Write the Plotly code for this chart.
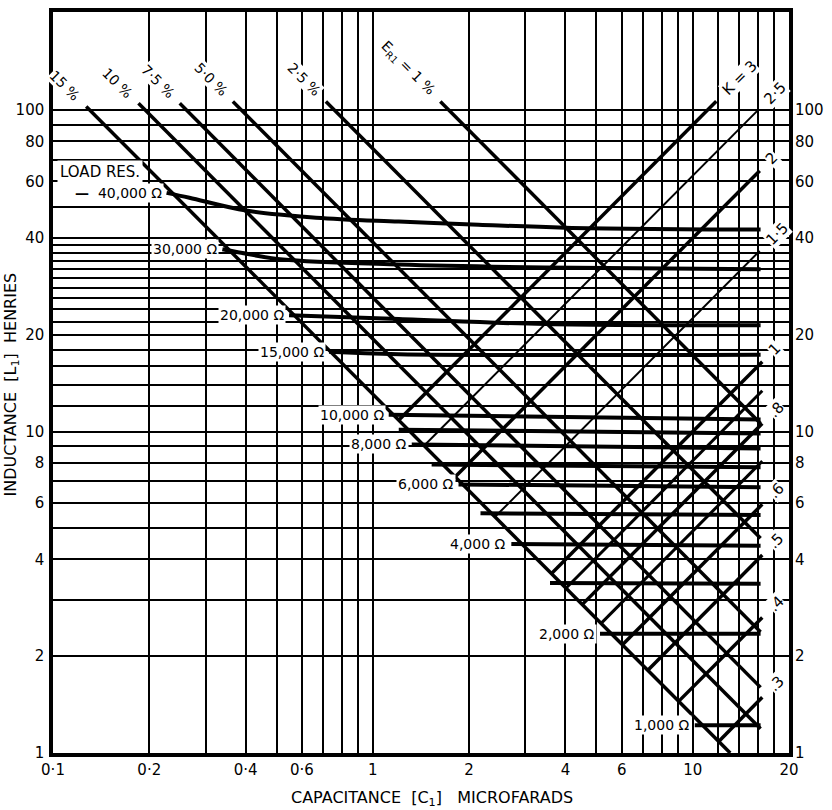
import math
import plotly.graph_objects as go

# ---------------- grid / tick data ----------------
x_grid = [0.1, 0.2, 0.3, 0.4, 0.5, 0.6, 0.7, 0.8, 0.9, 1, 2, 3, 4, 5, 6, 7, 8, 9, 10, 12, 14, 16, 18, 20]
x_tick_labels = {0.1: "0·1", 0.2: "0·2", 0.4: "0·4", 0.6: "0·6", 1: "1", 2: "2", 4: "4", 6: "6", 10: "10", 20: "20"}
y_grid = [1, 2, 3, 4, 5, 6, 7, 8, 9, 10, 12, 14, 16, 18, 20, 22, 24, 26, 28, 30, 32, 34, 36, 38, 40,
          50, 60, 70, 80, 90, 100]
y_tick_labels = {1: "1", 2: "2", 4: "4", 6: "6", 8: "8", 10: "10", 20: "20", 40: "40", 60: "60", 80: "80", 100: "100"}

x_min, x_max = 0.1, 20
y_min, y_max = 1, 202

# ---------------- ripple (E_R1) lines : slope -1 ----------------
eri_labels = ["15 %", "10 %", "7·5 %", "5·0 %", "2·5 %", "E<sub>R1</sub> = 1 %"]
eri_c_start = [0.127, 0.185, 0.249, 0.365, 0.713, 1.625]
eri_l_start = [102.7, 105.0, 105.0, 106.4, 106.4, 106.4]
eri_c_end = [13.1, 16.3, 16.3, 16.3, 16.3, 16.3]
eri_l_end = [1.0, 1.19, 1.60, 2.38, 4.66, 10.6]

# ---------------- K lines : slope +1 ----------------
k_labels = ["K = 3", "2·5", "2", "1·5", "1", "", ".8", "", ".6", ".5", ".4", ".3"]
k_c_start = [1.206, 1.448, 1.81, 2.41, 3.62, 4.02, 4.52, 5.17, 6.03, 7.24, 9.05, 12.06]
k_l_start = [10.86, 9.05, 7.24, 5.43, 3.62, 3.26, 2.90, 2.53, 2.17, 1.81, 1.45, 1.086]
k_c_end = [11.85, 16.0, 16.2, 16.2, 16.5, 16.5, 16.5, 16.5, 16.5, 16.5, 16.5, 16.5]
k_l_end = [106.6, 100.0, 64.8, 36.5, 16.5, 13.4, 10.6, 8.09, 5.94, 4.13, 2.64, 1.49]
k_width = [3.5, 2.0, 3.5, 2.0, 3.5, 3.0, 3.5, 3.0, 3.5, 3.5, 3.5, 3.5]

# ---------------- load resistance curves ----------------
load_40k_c = [0.2265, 0.267, 0.402, 0.664, 1.205, 2.14, 3.99, 16.3]
load_40k_l = [55.3, 53.4, 48.7, 46.3, 45.0, 44.0, 43.1, 42.5]
load_30k_c = [0.3385, 0.411, 0.523, 1.205, 3.46, 16.3]
load_30k_l = [36.9, 35.6, 34.3, 33.1, 32.4, 32.0]
load_20k_c = [0.547, 1.205, 3.46, 16.3]
load_20k_l = [23.0, 22.4, 21.6, 21.4]
load_15k_c = [0.7295, 1.205, 16.3]
load_15k_l = [17.7, 17.4, 17.35]

curve_labels = ["<b>—</b>  40,000 Ω", "30,000 Ω", "20,000 Ω", "15,000 Ω"]
curve_c = [load_40k_c, load_30k_c, load_20k_c, load_15k_c]
curve_l = [load_40k_l, load_30k_l, load_20k_l, load_15k_l]

low_labels = ["10,000 Ω", "", "8,000 Ω", "", "6,000 Ω", "", "4,000 Ω", "", "2,000 Ω", "1,000 Ω"]
low_c_start = [1.121, 1.205, 1.323, 1.527, 1.853, 2.17, 2.71, 3.58, 5.13, 10.15]
low_l_start = [11.29, 10.14, 9.12, 7.90, 6.85, 5.57, 4.47, 3.38, 2.35, 1.22]
low_c_end = [16.3, 16.3, 16.3, 16.3, 16.3, 16.3, 16.3, 16.3, 16.3, 16.3]
low_l_end = [10.9, 9.86, 8.86, 7.74, 6.71, 5.50, 4.41, 3.36, 2.35, 1.22]

FONT = "DejaVu Sans"
fig = go.Figure()


def add_line(xs, ys, width, shape="linear"):
    fig.add_trace(go.Scatter(x=xs, y=ys, mode="lines",
                             line=dict(color="black", width=width, shape=shape),
                             hoverinfo="skip", showlegend=False))


for i in range(len(eri_labels)):
    add_line([eri_c_start[i], eri_c_end[i]], [eri_l_start[i], eri_l_end[i]], 3.5)

for i in range(len(k_labels)):
    add_line([k_c_start[i], k_c_end[i]], [k_l_start[i], k_l_end[i]], k_width[i])

for i in range(len(curve_labels)):
    add_line(curve_c[i], curve_l[i], 4, shape="spline")

for i in range(len(low_labels)):
    add_line([low_c_start[i], low_c_end[i]], [low_l_start[i], low_l_end[i]], 4)

# invisible trace for the right-hand axis
fig.add_trace(go.Scatter(x=[x_min], y=[y_min], yaxis="y2", mode="markers",
                         marker=dict(opacity=0), hoverinfo="skip", showlegend=False))

ann = []
# ripple labels (rotated, reading downwards to the right)
for i, t in enumerate(eri_labels):
    ann.append(dict(x=math.log10(eri_c_start[i]), y=math.log10(eri_l_start[i]), xref="x", yref="y",
                    text=t, textangle=45, showarrow=False, xanchor="right", yanchor="bottom",
                    xshift=-1, yshift=1, bgcolor="white", borderpad=0,
                    font=dict(family=FONT, size=14, color="black")))
# K labels (rotated upwards)
for i, t in enumerate(k_labels):
    if not t:
        continue
    ann.append(dict(x=math.log10(k_c_end[i]), y=math.log10(k_l_end[i]), xref="x", yref="y",
                    text=t, textangle=-45, showarrow=False, xanchor="left", yanchor="bottom",
                    xshift=1, yshift=1, bgcolor="white", borderpad=0,
                    font=dict(family=FONT, size=15, color="black")))
# load labels
for i, t in enumerate(curve_labels):
    ann.append(dict(x=math.log10(curve_c[i][0]), y=math.log10(curve_l[i][0]), xref="x", yref="y",
                    text=t, showarrow=False, xanchor="right", yanchor="middle", xshift=-3,
                    bgcolor="white", borderpad=1, font=dict(family=FONT, size=14, color="black")))
for i, t in enumerate(low_labels):
    if not t:
        continue
    ann.append(dict(x=math.log10(low_c_start[i]), y=math.log10(low_l_start[i]), xref="x", yref="y",
                    text=t, showarrow=False, xanchor="right", yanchor="middle", xshift=-3,
                    bgcolor="white", borderpad=1, font=dict(family=FONT, size=14, color="black")))
ann.append(dict(x=math.log10(x_min), y=math.log10(64.3), xref="x", yref="y", text="LOAD RES.",
                showarrow=False, xanchor="left", yanchor="middle", xshift=4, bgcolor="white",
                borderpad=2, font=dict(family=FONT, size=15, color="black")))
# axis titles
ann.append(dict(x=0.515, y=-0.061, xref="paper", yref="paper",
                text="CAPACITANCE  [C<sub>1</sub>]   MICROFARADS", showarrow=False,
                xanchor="center", yanchor="middle", font=dict(family=FONT, size=16, color="black")))
ann.append(dict(x=-0.056, y=0.497, xref="paper", yref="paper",
                text="INDUCTANCE  [L<sub>1</sub>]  HENRIES", showarrow=False, textangle=-90,
                xanchor="center", yanchor="middle", font=dict(family=FONT, size=16, color="black")))

x_text = [x_tick_labels.get(v, "") for v in x_grid]
y_text = [y_tick_labels.get(v, "") for v in y_grid]

axis_common = dict(type="log", showgrid=True, gridcolor="black", gridwidth=1.8,
                   showline=True, mirror=True, linecolor="black", linewidth=3.5,
                   ticks="", zeroline=False, tickfont=dict(family=FONT, size=15, color="black"))

fig.update_layout(
    width=832, height=810,
    margin=dict(l=53, r=40, t=8, b=57),
    plot_bgcolor="white", paper_bgcolor="white",
    font=dict(family=FONT, color="black"),
    showlegend=False,
    xaxis=dict(range=[math.log10(x_min), math.log10(x_max)], tickvals=x_grid, ticktext=x_text, **axis_common),
    yaxis=dict(range=[math.log10(y_min), math.log10(y_max)], tickvals=y_grid, ticktext=y_text,
               ticklabelstandoff=2, **axis_common),
    yaxis2=dict(type="log", overlaying="y", side="right",
                range=[math.log10(y_min), math.log10(y_max)], tickvals=y_grid, ticktext=y_text,
                showgrid=False, showline=False, ticks="", zeroline=False, ticklabelstandoff=5,
                tickfont=dict(family=FONT, size=15, color="black")),
    annotations=ann,
)

fig.write_html("out.html", config={"displayModeBar": False},
               post_script="document.body.style.margin='0px';document.body.style.overflow='hidden';")
